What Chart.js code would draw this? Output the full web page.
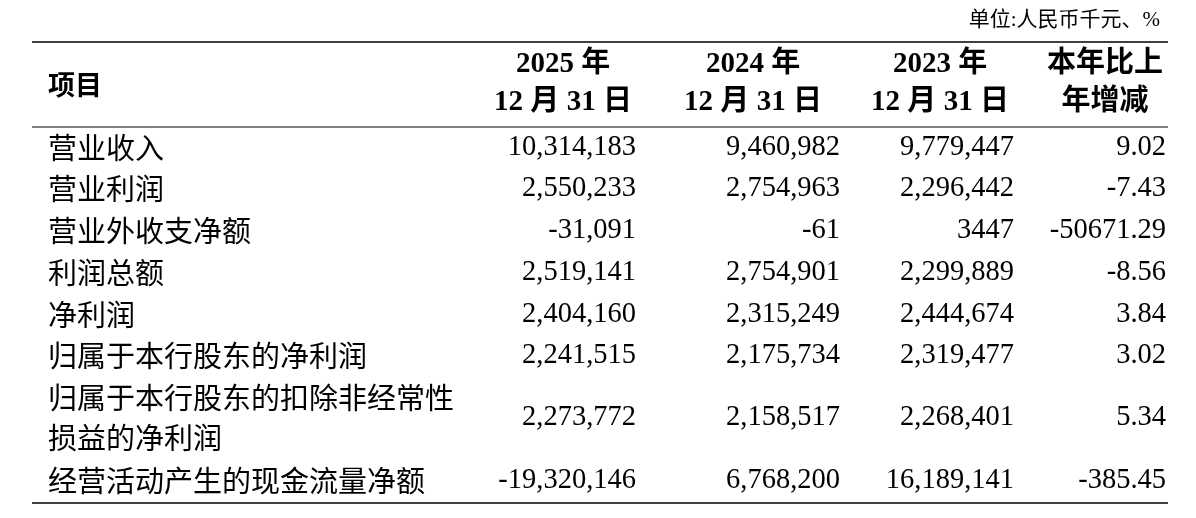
<!DOCTYPE html>
<html><head><meta charset="utf-8">
<script src="https://cdn.jsdelivr.net/npm/chart.js@4/dist/chart.umd.min.js"></script>
<style>html,body{margin:0;padding:0;background:#fff}#w{width:1196px;height:518px}</style>
</head><body><div id="w"><canvas id="c"></canvas></div>
<script>
const unitNote = "单位:人民币千元、%";
const headers = [["2025 年","12 月 31 日"],["2024 年","12 月 31 日"],["2023 年","12 月 31 日"],["本年比上","年增减"]];
const items = ["营业收入","营业利润","营业外收支净额","利润总额","净利润","归属于本行股东的净利润","归属于本行股东的扣除非经常性|损益的净利润","经营活动产生的现金流量净额"];
const v2025 = ["10,314,183","2,550,233","-31,091","2,519,141","2,404,160","2,241,515","2,273,772","-19,320,146"];
const v2024 = ["9,460,982","2,754,963","-61","2,754,901","2,315,249","2,175,734","2,158,517","6,768,200"];
const v2023 = ["9,779,447","2,296,442","3447","2,299,889","2,444,674","2,319,477","2,268,401","16,189,141"];
const change = ["9.02","-7.43","-50671.29","-8.56","3.84","3.02","5.34","-385.45"];

const rowY = [148,189,231,273,315,356,418,481];
const colRight = [636,840,1014,1166];
const colCenter = [563,753,940,1105];
const SER = '"Liberation Serif","DejaVu Serif",serif';
const CJK = '"Noto Sans CJK SC",sans-serif';

const tablePlugin = {id:'tbl', afterDraw(ch){
  const c = ch.ctx, X = ch.scales.x, Y = ch.scales.y;
  const px = v => X.getPixelForValue(v), py = v => Y.getPixelForValue(v);
  c.save(); c.fillStyle='#000'; c.strokeStyle='#000'; c.textBaseline='middle';
  const line=(y,w)=>{c.lineWidth=w;c.beginPath();c.moveTo(px(32),py(y));c.lineTo(px(1168),py(y));c.stroke();};
  line(42,1.5); line(127,1); line(503,1.5);
  c.font='21px '+SER+','+CJK; c.textAlign='right'; c.fillText(unitNote,px(1160),py(20));
  c.font='bold 27px '+CJK; c.textAlign='left'; c.fillText("项目",px(48),py(85));
  headers.forEach((h,i)=>{
    c.textAlign='center';
    h.forEach((t,j)=>{c.font='bold 29px '+SER+','+CJK; c.fillText(t,px(colCenter[i]),py(65+j*38));});
  });
  const cols=[v2025,v2024,v2023,change];
  items.forEach((lab,r)=>{
    c.textAlign='left'; c.font='29px '+CJK;
    const parts=lab.split('|');
    if(parts.length>1){c.fillText(parts[0],px(48),py(398));c.fillText(parts[1],px(48),py(438));}
    else c.fillText(lab,px(48),py(rowY[r]));
    c.textAlign='right'; c.font='28.5px '+SER;
    cols.forEach((col,k)=>c.fillText(col[r],px(colRight[k]),py(rowY[r])));
  });
  c.restore();
}};

new Chart(document.getElementById('c'),{
  type:'scatter',
  data:{datasets:[{data:[],pointRadius:0}]},
  options:{responsive:true,maintainAspectRatio:false,animation:false,
    layout:{padding:0},
    plugins:{legend:{display:false},tooltip:{enabled:false}},
    scales:{x:{type:'linear',min:0,max:1196,display:false},
            y:{type:'linear',min:0,max:518,reverse:true,display:false}}},
  plugins:[tablePlugin]
});
</script></body></html>
